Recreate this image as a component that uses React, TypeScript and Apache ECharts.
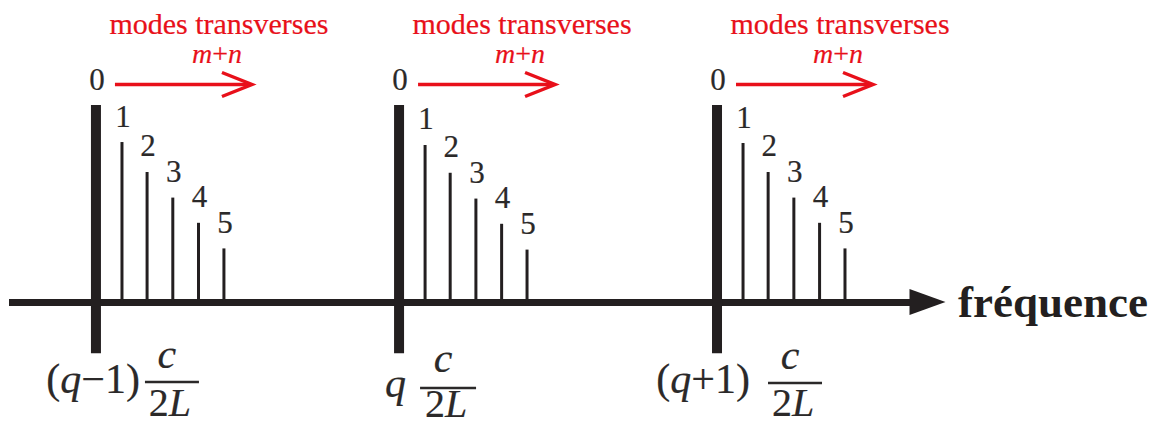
import React, { useEffect, useRef } from 'react';
import * as echarts from 'echarts';

// ---- values ----
const groupOrders = ['q−1', 'q', 'q+1']; // longitudinal orders
const groupFrequency = [0.284, 1.274, 2.3125]; // position on the frequency axis (c/2L units)
const transverseOrders = [0, 1, 2, 3, 4, 5]; // m+n
const transverseOffset = [0, 0.085, 0.167, 0.251, 0.335, 0.418];
const amplitudeQm1 = [1.0, 0.812, 0.66, 0.53, 0.402, 0.272];
const amplitudeQ = [1.0, 0.797, 0.656, 0.525, 0.397, 0.266];
const amplitudeQp1 = [1.0, 0.807, 0.66, 0.53, 0.402, 0.272];
const fundamentalDepth = -0.26;
const fractionNumerator = 'c';
const fractionDenominator = ['2', 'L'];
const transverseTitle = 'modes transverses';
const transverseIndex = ['m', '+', 'n'];
const axisTitle = 'fréquence';

// ---- styling ----
const INK = '#231f20';
const DIGIT = '#2b2929';
const RED = '#e8101a';
const FAMILY = '"Liberation Serif", "Times New Roman", "DejaVu Serif", serif';
const HALO = 0.2; // very slight stroke to match the heavier print of the original

// offset of the centre line of a text whose baseline is at `base`
const mid = (base: number, size: number) => base - 0.3375 * size;

// pixel layout of the math labels, relative to where each group meets the axis
const MATH_LAYOUT = [
  { prefixRight: 44, prefixBase: 91, barL: 49, barR: 103, barY: 80, numX: 71, numBase: 66, denX: 74, denBase: 114 },
  { prefixRight: 7, prefixBase: 95, barL: 21, barR: 77, barY: 86, numX: 44, numBase: 70, denX: 47, denBase: 115 },
  { prefixRight: 33, prefixBase: 91, barL: 51, barR: 105, barY: 81, numX: 73, numBase: 67, denX: 76, denBase: 114 },
];
const MATH_SIZE = 42;
const DEN_SIZE = 40;

const tok = (size: number, italic: boolean, color: string) => ({
  fontFamily: FAMILY,
  fontSize: size,
  fontStyle: italic ? 'italic' : 'normal',
  color,
  textBorderColor: color,
  textBorderWidth: HALO,
});

const richStyles = {
  ri: tok(28, true, RED),
  ru: tok(28, false, RED),
  mn: tok(MATH_SIZE, false, DIGIT),
  mi: tok(MATH_SIZE, true, DIGIT),
  dn: tok(DEN_SIZE, false, DIGIT),
  di: tok(DEN_SIZE, true, DIGIT),
};

function orderRich(label: string) {
  if (label === 'q') return '{mi|q}';
  return '{mn|(}{mi|q}{mn|' + label.slice(1) + ')}';
}

export default function App() {
  const ref = useRef<HTMLDivElement>(null);

  useEffect(() => {
    const chart = echarts.init(ref.current!, null, { renderer: 'svg' });
    const amplitudes = [amplitudeQm1, amplitudeQ, amplitudeQp1];

    const modeData: any[] = [];
    groupFrequency.forEach((f, g) => {
      transverseOrders.forEach((m, k) => {
        modeData.push([f + transverseOffset[k], amplitudes[g][k], m, g]);
      });
    });
    const groupData = groupFrequency.map((f, g) => [f, 1, g]);

    const textData: any[] = [];
    groupFrequency.forEach((f, g) => {
      const L = MATH_LAYOUT[g];
      textData.push({
        value: [f, 1],
        text: transverseTitle,
        label: {
          offset: [123, mid(-71.5, 30)],
          fontSize: 30,
          color: RED,
          textBorderColor: RED,
          align: 'center',
        },
      });
      textData.push({
        value: [f, 1],
        text: '{ri|' + transverseIndex[0] + '}{ru|' + transverseIndex[1] + '}{ri|' + transverseIndex[2] + '}',
        label: { offset: [121, mid(-42.5, 28)], fontSize: 28, color: RED, textBorderColor: RED, align: 'center' },
      });
      textData.push({
        value: [f, 0],
        text: orderRich(groupOrders[g]),
        label: { offset: [L.prefixRight, mid(L.prefixBase, MATH_SIZE)], fontSize: MATH_SIZE, align: 'right' },
      });
      textData.push({
        value: [f, 0],
        text: '{mi|' + fractionNumerator + '}',
        label: { offset: [L.numX, mid(L.numBase, MATH_SIZE)], fontSize: MATH_SIZE, align: 'center' },
      });
      textData.push({
        value: [f, 0],
        text: '{dn|' + fractionDenominator[0] + '}{di|' + fractionDenominator[1] + '}',
        label: { offset: [L.denX, mid(L.denBase, DEN_SIZE)], fontSize: DEN_SIZE, align: 'center' },
      });
    });

    chart.setOption({
      animation: false,
      backgroundColor: '#ffffff',
      textStyle: { fontFamily: FAMILY },
      grid: { left: 9, right: 234.5, top: 6.5, bottom: 25.5, containLabel: false, outerBoundsMode: 'none' },
      xAxis: {
        type: 'value',
        min: 0,
        max: 3,
        axisLine: {
          show: true,
          onZero: true,
          symbol: ['none', 'triangle'],
          symbolSize: [26, 36],
          lineStyle: { color: INK, width: 7, cap: 'butt' },
        },
        axisTick: { show: false },
        axisLabel: { show: false },
        splitLine: { show: false },
        name: axisTitle,
        nameLocation: 'end',
        nameGap: 30.5,
        nameTextStyle: {
          fontFamily: FAMILY,
          fontWeight: 'bold',
          fontSize: 45,
          color: INK,
          verticalAlign: 'middle',
          padding: [0, 0, 20, 0],
        },
      },
      yAxis: { type: 'value', min: -0.5, max: 1.5, show: false },
      series: [
        {
          type: 'custom',
          name: 'modes',
          coordinateSystem: 'cartesian2d',
          clip: false,
          silent: true,
          encode: { x: 0, y: 1 },
          data: modeData,
          renderItem: (_params: any, api: any) => {
            const x = api.value(0);
            const amp = api.value(1);
            const order = api.value(2);
            const top = api.coord([x, amp]);
            const base = api.coord([x, order === 0 ? fundamentalDepth : 0]);
            const w = order === 0 ? 10 : 3;
            return {
              type: 'rect',
              shape: { x: top[0] - w / 2, y: top[1], width: w, height: base[1] - top[1] },
              style: { fill: INK },
            };
          },
        },
        {
          type: 'scatter',
          name: 'mode numbers',
          silent: true,
          symbolSize: 1,
          itemStyle: { color: 'rgba(0,0,0,0)', opacity: 1 },
          data: modeData,
          label: {
            show: true,
            position: 'inside',
            offset: [1, -26],
            formatter: (p: any) => String(p.value[2]),
            fontFamily: FAMILY,
            fontSize: 31,
            color: DIGIT,
            textBorderColor: DIGIT,
            textBorderWidth: HALO,
            opacity: 1,
          },
          emphasis: { disabled: true },
          z: 4,
        },
        {
          type: 'custom',
          name: 'arrows and fraction bars',
          coordinateSystem: 'cartesian2d',
          clip: false,
          silent: true,
          encode: { x: 0, y: 1 },
          data: groupData,
          renderItem: (_params: any, api: any) => {
            const x = api.value(0);
            const g = api.value(2);
            const top = api.coord([x, api.value(1)]);
            const base = api.coord([x, 0]);
            const cx = base[0];
            const by = base[1];
            const L = MATH_LAYOUT[g];
            const ay = top[1] - 20.5;
            const tip = cx + 156;
            return {
              type: 'group',
              children: [
                {
                  type: 'line',
                  shape: { x1: cx + 19, y1: ay, x2: tip - 2, y2: ay },
                  style: { stroke: RED, lineWidth: 3.5 },
                },
                {
                  type: 'polyline',
                  shape: { points: [[tip - 30, ay - 12], [tip, ay], [tip - 30, ay + 12]] },
                  style: { stroke: RED, lineWidth: 3.5, fill: 'none', lineJoin: 'miter' },
                },
                {
                  type: 'line',
                  shape: { x1: cx + L.barL, y1: by + L.barY, x2: cx + L.barR, y2: by + L.barY },
                  style: { stroke: DIGIT, lineWidth: 2.5 },
                },
              ],
            };
          },
        },
        {
          type: 'scatter',
          name: 'annotations',
          silent: true,
          symbolSize: 1,
          itemStyle: { color: 'rgba(0,0,0,0)', opacity: 1 },
          data: textData,
          label: {
            show: true,
            position: 'inside',
            formatter: (p: any) => p.data.text,
            fontFamily: FAMILY,
            fontSize: MATH_SIZE,
            color: DIGIT,
            textBorderColor: DIGIT,
            textBorderWidth: HALO,
            opacity: 1,
            verticalAlign: 'middle',
            rich: richStyles,
          },
          emphasis: { disabled: true },
          z: 4,
        },
      ],
    });

    return () => chart.dispose();
  }, []);

  return (
    <div
      ref={ref}
      style={{ position: 'fixed', left: 0, top: 0, width: 1162, height: 426, background: '#ffffff' }}
    />
  );
}
